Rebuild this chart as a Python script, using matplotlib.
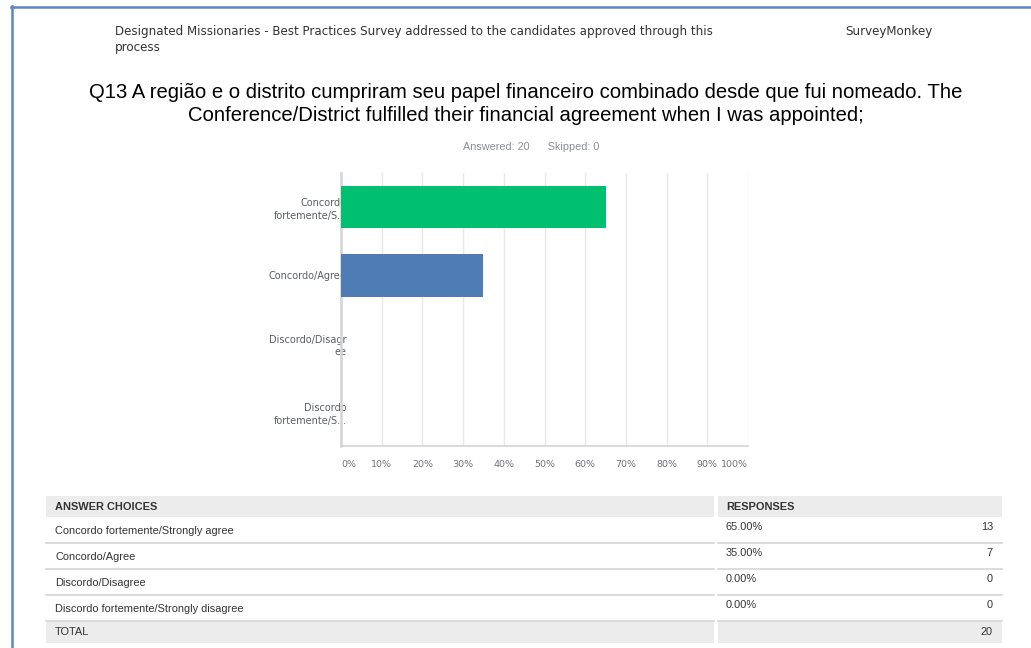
import matplotlib
matplotlib.use('Agg')
from matplotlib import pyplot as plt
from matplotlib.patches import Rectangle
from matplotlib.lines import Line2D

W, H = 1031, 648

header = 'Designated Missionaries - Best Practices Survey addressed to the candidates approved through this\nprocess'
brand = 'SurveyMonkey'
title = ('Q13 A região e o distrito cumpriram seu papel financeiro combinado desde que fui nomeado. The\n'
         'Conference/District fulfilled their financial agreement when I was appointed;')
answered = 20
skipped = 0

choices = ['Concordo fortemente/Strongly agree', 'Concordo/Agree',
           'Discordo/Disagree', 'Discordo fortemente/Strongly disagree']
axis_labels = ['Concordo\nfortemente/S...', 'Concordo/Agree', 'Discordo/Disagr\nee', 'Discordo\nfortemente/S...']
percents = [65.0, 35.0, 0.0, 0.0]
counts = [13, 7, 0, 0]
bar_colors = ['#00bf6f', '#507cb6', '#00bf6f', '#00bf6f']
xticks = list(range(0, 101, 10))


def fx(px):
    return px / W


def fy(py):
    return 1 - py / H


fig = plt.figure(figsize=(W / 100, H / 100), dpi=100)
fig.patch.set_facecolor('white')

# page frame
frame = '#5b86c4'
fig.add_artist(Line2D([fx(12), fx(12)], [fy(6), fy(H + 2)], color=frame, lw=1.8, transform=fig.transFigure))
fig.add_artist(Line2D([fx(11), fx(W + 2)], [fy(6.5), fy(6.5)], color=frame, lw=1.8, transform=fig.transFigure))

fig.text(fx(115), fy(39.5), header, fontsize=8.55, color='#333333', va='center', ha='left',
         family='DejaVu Sans', linespacing=1.2)
fig.text(fx(845), fy(32), brand, fontsize=8.55, color='#333333', va='center', ha='left', family='DejaVu Sans')

fig.text(fx(526), fy(104), title, fontsize=14.6, color='#000000', ha='center', va='center',
         family='Liberation Sans', linespacing=1.3)
fig.text(fx(531), fy(147), f'Answered: {answered}      Skipped: {skipped}', fontsize=7.8,
         color='#8a8f94', ha='center', va='center', family='Liberation Sans')

# bar chart
ax = fig.add_axes([fx(341), fy(446), fx(748) - fx(341), (446 - 173) / H])
ypos = list(range(len(axis_labels)))
ax.barh(ypos, percents, height=0.62, color=bar_colors, zorder=3)
ax.set_xlim(0, 100)
ax.set_ylim(len(axis_labels) - 0.5, -0.5)
ax.set_xticks(xticks)
ax.set_xticklabels([f'{t}%' for t in xticks])
ax.set_yticks(ypos)
ax.set_yticklabels(axis_labels)
ax.grid(axis='x', color='#e8e8e8', lw=1, zorder=0)
ax.tick_params(length=0)
ax.tick_params(axis='x', pad=10, labelsize=6.8, labelcolor='#6d7278')
ax.tick_params(axis='y', pad=-4, labelsize=7.0, labelcolor='#5a5f64')
for lab in ax.get_yticklabels():
    lab.set_linespacing(1.35)
xl = ax.get_xticklabels()
xl[0].set_ha('left')
xl[-1].set_ha('right')
for s in ['top', 'right']:
    ax.spines[s].set_visible(False)
ax.spines['left'].set_color('#d4d4d4')
ax.spines['left'].set_linewidth(1.8)
ax.spines['bottom'].set_color('#d4d4d4')
ax.spines['bottom'].set_linewidth(1.2)

# answer table
grey = '#ececec'
sep = '#d6d6d6'
lx0, lx1, rx0, rx1 = 46, 714, 718, 1002


def box(x0, y0, x1, y1, color):
    fig.add_artist(Rectangle((fx(x0), fy(y1)), fx(x1) - fx(x0), (y1 - y0) / H,
                             facecolor=color, edgecolor='none', transform=fig.transFigure))


def hline(x0, x1, y):
    fig.add_artist(Line2D([fx(x0), fx(x1)], [fy(y), fy(y)], color=sep, lw=1.2, transform=fig.transFigure))


box(lx0, 496, lx1, 517, grey)
box(rx0, 496, rx1, 517, grey)
txt = dict(fontsize=7.95, color='#333333', family='Liberation Sans', va='center')
fig.text(fx(55), fy(506.5), 'ANSWER CHOICES', fontweight='bold', **txt)
fig.text(fx(726), fy(506.5), 'RESPONSES', fontweight='bold', **txt)

row_h = 26
for i, (c, p, n) in enumerate(zip(choices, percents, counts)):
    top = 517 + i * row_h
    fig.text(fx(55), fy(top + 14), c, ha='left', **txt)
    fig.text(fx(726), fy(top + 10), f'{p:.2f}%', ha='left', **txt)
    fig.text(fx(993), fy(top + 10), f'{n}', ha='right', **txt)
    hline(lx0, lx1, top + row_h)
    hline(rx0, rx1, top + row_h)

tt = 517 + len(choices) * row_h
box(lx0, tt, lx1, tt + 22, grey)
box(rx0, tt, rx1, tt + 22, grey)
fig.text(fx(55), fy(tt + 11), 'TOTAL', ha='left', **txt)
fig.text(fx(993), fy(tt + 11), f'{sum(counts)}', ha='right', **txt)

fig.savefig('out.png', dpi=100)
